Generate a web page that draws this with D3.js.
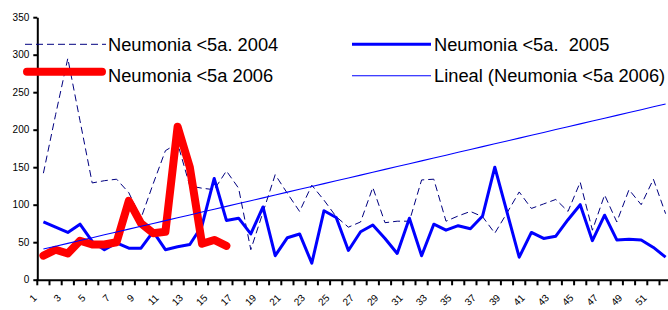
<!DOCTYPE html>
<html>
<head>
<meta charset="utf-8">
<script src="https://cdn.jsdelivr.net/npm/d3@7"></script>
<style>
  body { margin: 0; background: #fff; }
  svg { display: block; font-family: "Liberation Sans", Arial, sans-serif; }
</style>
</head>
<body>
<svg id="chart"></svg>
<script>
const width = 668, height = 310;

// semanas epidemiologicas
const weeks = [1,2,3,4,5,6,7,8,9,10,11,12,13,14,15,16,17,18,19,20,21,22,23,24,25,26,
               27,28,29,30,31,32,33,34,35,36,37,38,39,40,41,42,43,44,45,46,47,48,49,50,51,52];

// casos neumonia < 5 anios
const neu2004 = [142,220,295,212,129,132,134,116,82,128,172,182,125,122,120,145,122,40,90,140,
                 115,91,126,106,84,70,77,123,76,78,78,133,134,78,85,91,84,62,89,117,
                 95,101,107,91,130,66,113,77,120,100,134,88];
const neu2005 = [77,70,63,74,51,40,49,42,42,64,40,44,47,72,135,79,82,61,97,32,
                 56,61,22,92,83,39,64,73,55,35,82,32,74,66,72,68,85,150,90,30,
                 63,55,58,80,100,52,86,53,54,53,43,30];
const neu2006 = [32,40,35,52,47,47,50,105,75,62,64,204,150,48,53,45];

const yTicks = [0,50,100,150,200,250,300,350];
const legendNames = ["Neumonia <5a. 2004", "Neumonia <5a.  2005", "Neumonia <5a 2006", "Lineal (Neumonia <5a 2006)"];

let svg = d3.select('#chart')
    .attr('width', width)
    .attr('height', height);

const x0 = 37.3, band = 12.2;
const x = d3.scaleBand().domain(weeks).range([x0, x0 + band * weeks.length]);
const y = d3.scaleLinear().domain([0, 350]).range([279.7, 17.2]);
const cx = w => x(w) + x.bandwidth() / 2;

const line = d3.line()
    .x((d, i) => cx(weeks[i]))
    .y(d => y(d));

// tendencia lineal (minimos cuadrados) de 2006, proyectada a todo el anio
const mx = d3.mean(neu2006, (d, i) => i + 1);
const my = d3.mean(neu2006);
const slope = d3.sum(neu2006, (d, i) => (i + 1 - mx) * (d - my)) / d3.sum(neu2006, (d, i) => (i + 1 - mx) ** 2);
const icpt = my - slope * mx;
const trend = weeks.map(w => icpt + slope * w);

// series
svg.append("path")
    .datum(neu2004)
    .attr("d", line)
    .attr("fill", "none")
    .attr("stroke", "#000080")
    .attr("stroke-width", 1)
    .attr("stroke-dasharray", "7,4");

svg.append("path")
    .datum(neu2005)
    .attr("d", line)
    .attr("fill", "none")
    .attr("stroke", "#0000ff")
    .attr("stroke-width", 3)
    .attr("stroke-linejoin", "round");

svg.append("path")
    .datum(neu2006)
    .attr("d", line)
    .attr("fill", "none")
    .attr("stroke", "#ff0000")
    .attr("stroke-width", 8)
    .attr("stroke-linejoin", "round")
    .attr("stroke-linecap", "round");

svg.append("path")
    .datum(trend)
    .attr("d", line)
    .attr("fill", "none")
    .attr("stroke", "#0000ff")
    .attr("stroke-width", 1.1);

// eje y
let yAxis = svg.append("g")
    .attr("transform", `translate(${x0},0)`)
    .call(d3.axisLeft(y).tickValues(yTicks).tickSize(4).tickPadding(4).tickSizeOuter(0));
yAxis.select(".domain").attr("stroke", "#000").attr("stroke-width", 2);
yAxis.selectAll(".tick line").attr("stroke", "#000").attr("stroke-width", 2);
yAxis.selectAll(".tick text")
    .style("font-size", "10px")
    .style("font-family", '"Liberation Sans", Arial, sans-serif')
    .attr("fill", "#000");

// eje x
const xAxisY = y(0) + 0.6;
svg.append("line")
    .attr("x1", x0 - 1).attr("x2", width)
    .attr("y1", xAxisY).attr("y2", xAxisY)
    .attr("stroke", "#000").attr("stroke-width", 2);

svg.append("g")
    .selectAll("line")
    .data(weeks)
    .join("line")
    .attr("x1", d => x(d)).attr("x2", d => x(d))
    .attr("y1", xAxisY).attr("y2", xAxisY + 5)
    .attr("stroke", "#000").attr("stroke-width", 2);

svg.append("g")
    .selectAll("text")
    .data(weeks.filter(w => w % 2 === 1))
    .join("text")
    .attr("transform", d => `translate(${cx(d) - 6},298.5) rotate(-45)`)
    .attr("text-anchor", "end")
    .style("font-size", "10px")
    .attr("fill", "#000")
    .text(d => d);

// leyenda
let legend = svg.append("g").style("font-size", "18.3px").attr("fill", "#000");

legend.append("line")
    .attr("x1", 25).attr("x2", 106).attr("y1", 44.3).attr("y2", 44.3)
    .attr("stroke", "#000080").attr("stroke-width", 1).attr("stroke-dasharray", "7,4");
legend.append("text").attr("x", 108).attr("y", 50.7).text(legendNames[0]);

legend.append("line")
    .attr("x1", 352).attr("x2", 431).attr("y1", 44.2).attr("y2", 44.2)
    .attr("stroke", "#0000ff").attr("stroke-width", 3);
legend.append("text").attr("x", 434).attr("y", 50.7)
    .style("white-space", "pre").text(legendNames[1]);

legend.append("line")
    .attr("x1", 27).attr("x2", 102).attr("y1", 71.7).attr("y2", 71.7)
    .attr("stroke", "#ff0000").attr("stroke-width", 8).attr("stroke-linecap", "round");
legend.append("text").attr("x", 108).attr("y", 81.7).text(legendNames[2]);

legend.append("line")
    .attr("x1", 352).attr("x2", 431).attr("y1", 75.7).attr("y2", 75.7)
    .attr("stroke", "#0000ff").attr("stroke-width", 1.1);
legend.append("text").attr("x", 434).attr("y", 81.7).text(legendNames[3]);
</script>
</body>
</html>
